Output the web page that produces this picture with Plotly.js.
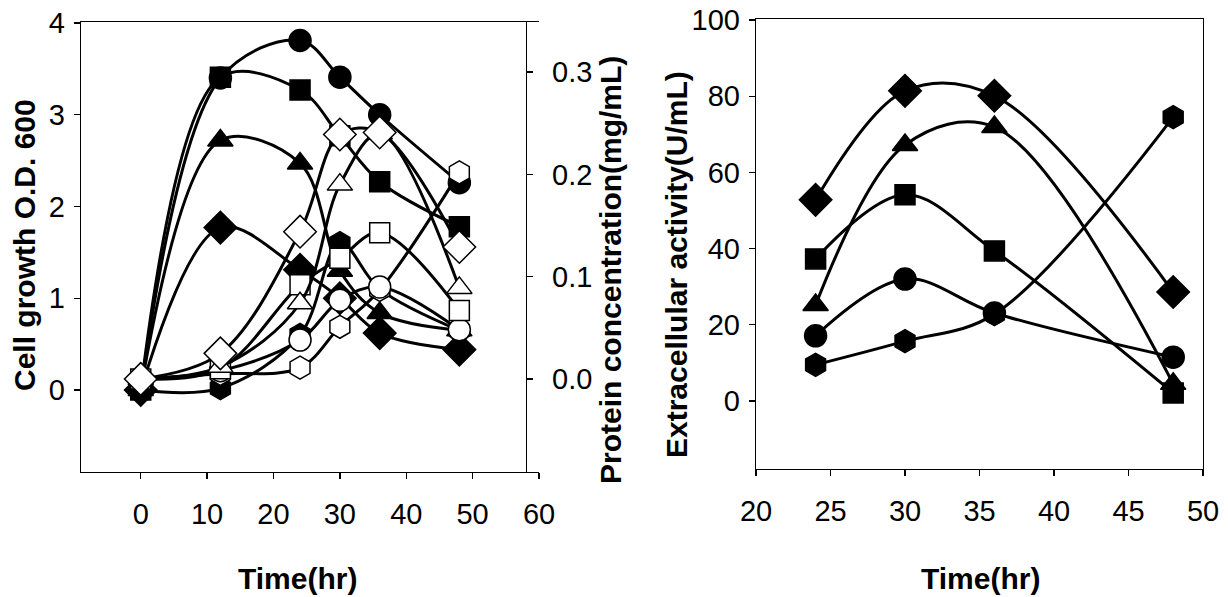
<!DOCTYPE html>
<html>
<head>
<meta charset="utf-8">
<script src="https://cdn.plot.ly/plotly-3.0.1.min.js"></script>
<style>
html,body{margin:0;padding:0;background:#fff;}
#chart{width:1228px;height:597px;}
</style>
</head>
<body>
<div id="chart"></div>
<script>
// ---- Left panel: time points (hr)
const timeA = [0, 12, 24, 30, 36, 48];
// Cell growth O.D. 600 (filled markers, left axis)
const odCircle   = [0.00, 3.40, 3.81, 3.41, 3.00, 2.26];
const odSquare   = [0.00, 3.41, 3.27, 2.77, 2.27, 1.78];
const odTriangle = [0.00, 2.72, 2.47, 1.30, 0.84, 0.65];
const odDiamond  = [0.00, 1.77, 1.31, 1.00, 0.62, 0.44];
const odHexagon  = [0.00, 0.02, 0.60, 1.60, 1.10, 0.65];
// Protein concentration mg/mL (open markers, right axis)
const protDiamond  = [0.000, 0.025, 0.144, 0.239, 0.241, 0.129];
const protTriangle = [0.000, 0.012, 0.074, 0.190, 0.240, 0.089];
const protSquare   = [0.000, 0.010, 0.092, 0.118, 0.143, 0.067];
const protCircle   = [0.000, 0.008, 0.038, 0.077, 0.090, 0.048];
const protHexagon  = [0.000, 0.005, 0.011, 0.051, 0.087, 0.202];
// ---- Right panel
const timeB = [24, 30, 36, 48];
const actDiamond  = [52.8, 81.4, 80.1, 28.6];
const actTriangle = [25.2, 67.2, 71.9, 4.5];
const actSquare   = [37.3, 54.1, 39.4, 2.1];
const actCircle   = [17.1, 32.0, 23.1, 11.5];
const actHexagon  = [9.5, 15.7, 22.8, 74.5];

const W = 1228, H = 597;
const px = v => v / W, py = v => 1 - v / H;

const LINE = {color: '#000', width: 3, shape: 'spline', smoothing: 1};
const sizes = {circle: 22, square: 20, 'triangle-up': 22, diamond: 25, hexagon: 23};
function tr(x, y, sym, filled, xa, ya) {
  return {
    x: x, y: y, type: 'scatter', mode: 'lines+markers',
    xaxis: xa, yaxis: ya, cliponaxis: false,
    line: LINE,
    marker: {symbol: sym, size: sizes[sym], color: filled ? '#000' : '#fff',
             line: {color: '#000', width: 1.5}},
    hoverinfo: 'skip'
  };
}
const data = [
  tr(timeA, protHexagon, 'hexagon', false, 'x', 'y2'),
  tr(timeA, protCircle, 'circle', false, 'x', 'y2'),
  tr(timeA, protSquare, 'square', false, 'x', 'y2'),
  tr(timeA, protTriangle, 'triangle-up', false, 'x', 'y2'),
  tr(timeA, protDiamond, 'diamond', false, 'x', 'y2'),
  tr(timeA, odHexagon, 'hexagon', true, 'x', 'y'),
  tr(timeA, odDiamond, 'diamond', true, 'x', 'y'),
  tr(timeA, odTriangle, 'triangle-up', true, 'x', 'y'),
  tr(timeA, odSquare, 'square', true, 'x', 'y'),
  tr(timeA, odCircle, 'circle', true, 'x', 'y'),
  tr(timeB, actHexagon, 'hexagon', true, 'x3', 'y3'),
  tr(timeB, actCircle, 'circle', true, 'x3', 'y3'),
  tr(timeB, actSquare, 'square', true, 'x3', 'y3'),
  tr(timeB, actTriangle, 'triangle-up', true, 'x3', 'y3'),
  tr(timeB, actDiamond, 'diamond', true, 'x3', 'y3')
];
const TICKFONT = {family: 'Liberation Sans, Arial, sans-serif', size: 29, color: '#000'};
const axBase = {showgrid: false, zeroline: false, showline: true, linecolor: '#000', linewidth: 1.3,
  ticks: 'outside', ticklen: 6, tickcolor: '#000', tickwidth: 1.3, tickfont: TICKFONT, fixedrange: true};
const TITLEFONT = {family: 'Liberation Sans, Arial, sans-serif', size: 30, color: '#000', weight: 'bold'};

const layout = {
  width: W, height: H, margin: {l: 0, r: 0, t: 0, b: 0},
  paper_bgcolor: '#fff', plot_bgcolor: 'rgba(0,0,0,0)', showlegend: false,
  xaxis: Object.assign({}, axBase, {domain: [px(81), px(539)], range: [-9, 60], anchor: 'y',
    tickvals: [0, 10, 20, 30, 40, 50, 60], mirror: true, ticklabelstandoff: 10}),
  yaxis: Object.assign({}, axBase, {domain: [py(472), py(22)], range: [-0.894, 4.011], anchor: 'x',
    tickvals: [0, 1, 2, 3, 4], ticklabelstandoff: 3}),
  yaxis2: Object.assign({}, axBase, {overlaying: 'y', side: 'right', anchor: 'free', position: px(526),
    range: [-0.091, 0.349], tickvals: [0, 0.1, 0.2, 0.3], ticktext: ['0.0', '0.1', '0.2', '0.3'],
    ticklabelstandoff: 13}),
  xaxis3: Object.assign({}, axBase, {domain: [px(756), px(1203)], range: [20, 50], anchor: 'y3',
    tickvals: [20, 25, 30, 35, 40, 45, 50], mirror: true, ticklabelstandoff: 10}),
  yaxis3: Object.assign({}, axBase, {domain: [py(469), py(19)], range: [-17.85, 100.26], anchor: 'x3',
    tickvals: [0, 20, 40, 60, 80, 100], mirror: true, ticklabelstandoff: 3}),
  annotations: [
    {text: 'Cell growth O.D. 600', xref: 'paper', yref: 'paper', x: px(25), y: py(245),
     textangle: -90, showarrow: false, font: TITLEFONT, xanchor: 'center', yanchor: 'middle'},
    {text: 'Protein concentration(mg/mL)', xref: 'paper', yref: 'paper', x: px(610), y: py(270),
     textangle: -90, showarrow: false, font: TITLEFONT, xanchor: 'center', yanchor: 'middle'},
    {text: 'Time(hr)', xref: 'paper', yref: 'paper', x: px(297), y: py(578),
     showarrow: false, font: TITLEFONT, xanchor: 'center', yanchor: 'middle'},
    {text: 'Extracellular activity(U/mL)', xref: 'paper', yref: 'paper', x: px(676), y: py(265),
     textangle: -90, showarrow: false, font: TITLEFONT, xanchor: 'center', yanchor: 'middle'},
    {text: 'Time(hr)', xref: 'paper', yref: 'paper', x: px(980), y: py(578),
     showarrow: false, font: TITLEFONT, xanchor: 'center', yanchor: 'middle'}
  ]
};
Plotly.newPlot('chart', data, layout, {staticPlot: true, displayModeBar: false});
</script>
</body>
</html>
